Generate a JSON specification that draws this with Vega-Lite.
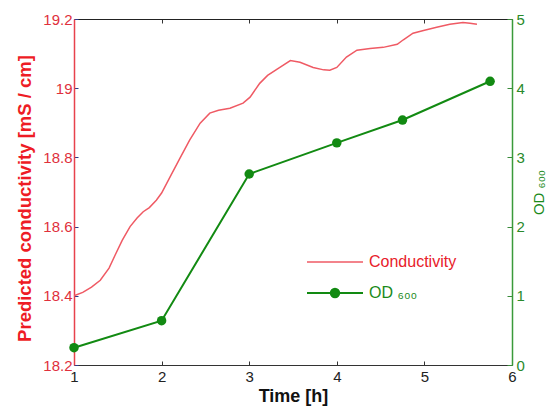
{
  "$schema": "https://vega.github.io/schema/vega-lite/v6.json",
  "width": 438,
  "height": 346,
  "autosize": {"type": "none"},
  "padding": {"left": 74, "top": 19, "right": 35, "bottom": 43},
  "background": "white",
  "config": {
    "view": {"stroke": null},
    "font": "Liberation Sans"
  },
  "datasets": {
    "cond": [
      {"t": 1.0, "v": 18.400}, {"t": 1.1, "v": 18.410}, {"t": 1.2, "v": 18.425},
      {"t": 1.3, "v": 18.445}, {"t": 1.4, "v": 18.48}, {"t": 1.47, "v": 18.518},
      {"t": 1.55, "v": 18.56}, {"t": 1.64, "v": 18.600}, {"t": 1.72, "v": 18.625},
      {"t": 1.79, "v": 18.643}, {"t": 1.86, "v": 18.655}, {"t": 1.94, "v": 18.676},
      {"t": 2.0, "v": 18.697}, {"t": 2.1, "v": 18.745}, {"t": 2.21, "v": 18.798},
      {"t": 2.32, "v": 18.85}, {"t": 2.44, "v": 18.899}, {"t": 2.55, "v": 18.928},
      {"t": 2.65, "v": 18.936}, {"t": 2.78, "v": 18.942}, {"t": 2.93, "v": 18.957},
      {"t": 3.01, "v": 18.974}, {"t": 3.12, "v": 19.014}, {"t": 3.21, "v": 19.037},
      {"t": 3.35, "v": 19.06}, {"t": 3.47, "v": 19.08}, {"t": 3.58, "v": 19.075},
      {"t": 3.73, "v": 19.06}, {"t": 3.85, "v": 19.053}, {"t": 3.92, "v": 19.052},
      {"t": 4.0, "v": 19.06}, {"t": 4.11, "v": 19.09}, {"t": 4.23, "v": 19.11},
      {"t": 4.38, "v": 19.115}, {"t": 4.53, "v": 19.118}, {"t": 4.69, "v": 19.127},
      {"t": 4.76, "v": 19.14}, {"t": 4.87, "v": 19.159}, {"t": 4.99, "v": 19.167},
      {"t": 5.14, "v": 19.176}, {"t": 5.29, "v": 19.185}, {"t": 5.44, "v": 19.19},
      {"t": 5.52, "v": 19.188}, {"t": 5.6, "v": 19.185}
    ],
    "od": [
      {"t": 1.0, "od": 0.25}, {"t": 2.0, "od": 0.64}, {"t": 3.0, "od": 2.76},
      {"t": 4.0, "od": 3.21}, {"t": 4.75, "od": 3.54}, {"t": 5.75, "od": 4.1}
    ]
  },
  "layer": [
    {
      "data": {"name": "cond"},
      "mark": {"type": "line", "strokeWidth": 1.5},
      "encoding": {
        "x": {
          "field": "t", "type": "quantitative",
          "scale": {"domain": [1, 6], "nice": false, "zero": false},
          "axis": {
            "orient": "bottom", "title": "Time [h]", "values": [1, 2, 3, 4, 5, 6],
            "grid": false, "domainColor": "#333333", "tickColor": "#333333",
            "tickSize": -4, "labelPadding": 8, "labelFontSize": 15, "labelColor": "#222222",
            "titleFontSize": 18, "titleFontWeight": "bold", "titleColor": "#111111",
            "titlePadding": 3, "labelFlush": false
          }
        },
        "y": {
          "field": "v", "type": "quantitative",
          "scale": {"domain": [18.2, 19.2], "nice": false, "zero": false},
          "axis": {
            "orient": "left", "title": "Predicted conductivity [mS / cm]",
            "values": [18.2, 18.4, 18.6, 18.8, 19, 19.2], "format": ".3~g",
            "grid": false, "domainColor": "#e8424c", "domainWidth": 1.5,
            "tickColor": "#2a3a8a", "tickSize": -4, "labelPadding": 6,
            "labelFontSize": 15, "labelColor": "#e0303c", "labelFlush": false,
            "titleFontSize": 18.5, "titleFontWeight": "bold", "titleColor": "#ee1c25",
            "titlePadding": 8, "titleY": 179
          }
        },
        "color": {
          "datum": "Conductivity",
          "scale": {"domain": ["Conductivity", "OD ₆₀₀"], "range": ["#ef5a64", "#128a12"]},
          "legend": {
            "orient": "none", "legendX": 253, "legendY": 235, "title": null,
            "padding": 0, "symbolSize": 196, "labelOffset": 26, "rowPadding": 14,
            "labelFontSize": 16, "symbolStrokeWidth": 2,
            "encode": {
              "symbols": {
                "update": {
                  "shape": {"signal": "datum.value == 'Conductivity' ? 'M-4,0H4' : 'M-4,0H4M0.6,0A0.6,0.6,0,1,1,-0.6,0A0.6,0.6,0,1,1,0.6,0Z'"},
                  "fill": {"signal": "datum.value == 'Conductivity' ? 'transparent' : '#0a8a0a'"},
                  "stroke": {"signal": "datum.value == 'Conductivity' ? '#ef5a64' : '#128a12'"},
                  "strokeWidth": {"signal": "datum.value == 'Conductivity' ? 1.5 : 2"}
                }
              },
              "labels": {
                "update": {
                  "fill": {"signal": "datum.value == 'Conductivity' ? '#e8202a' : '#1a8a1a'"}
                }
              }
            }
          }
        }
      }
    },
    {
      "data": {"name": "od"},
      "mark": {"type": "line", "strokeWidth": 2, "point": {"filled": true, "size": 90, "opacity": 1}},
      "encoding": {
        "x": {
          "field": "t", "type": "quantitative",
          "axis": {
            "orient": "top", "title": null, "labels": false, "values": [1, 2, 3, 4, 5, 6],
            "grid": false, "domainColor": "#222222", "tickColor": "#333333", "tickSize": -4
          }
        },
        "y": {
          "field": "od", "type": "quantitative",
          "scale": {"domain": [0, 5], "nice": false},
          "axis": {
            "orient": "right", "title": "OD ₆₀₀", "titleAngle": 270,
            "values": [0, 1, 2, 3, 4, 5], "grid": false,
            "domainColor": "#3a9a3a", "domainWidth": 1.5, "tickColor": "#3a8a3a",
            "tickSize": -5, "labelPadding": 9, "labelFontSize": 15, "labelColor": "#2a8a2a",
            "labelFlush": false, "titleFontSize": 15, "titleFontWeight": "normal",
            "titleColor": "#1a8a1a", "titlePadding": 22
          }
        },
        "color": {"datum": "OD ₆₀₀"}
      }
    }
  ],
  "resolve": {"scale": {"y": "independent"}, "axis": {"x": "independent"}}
}
